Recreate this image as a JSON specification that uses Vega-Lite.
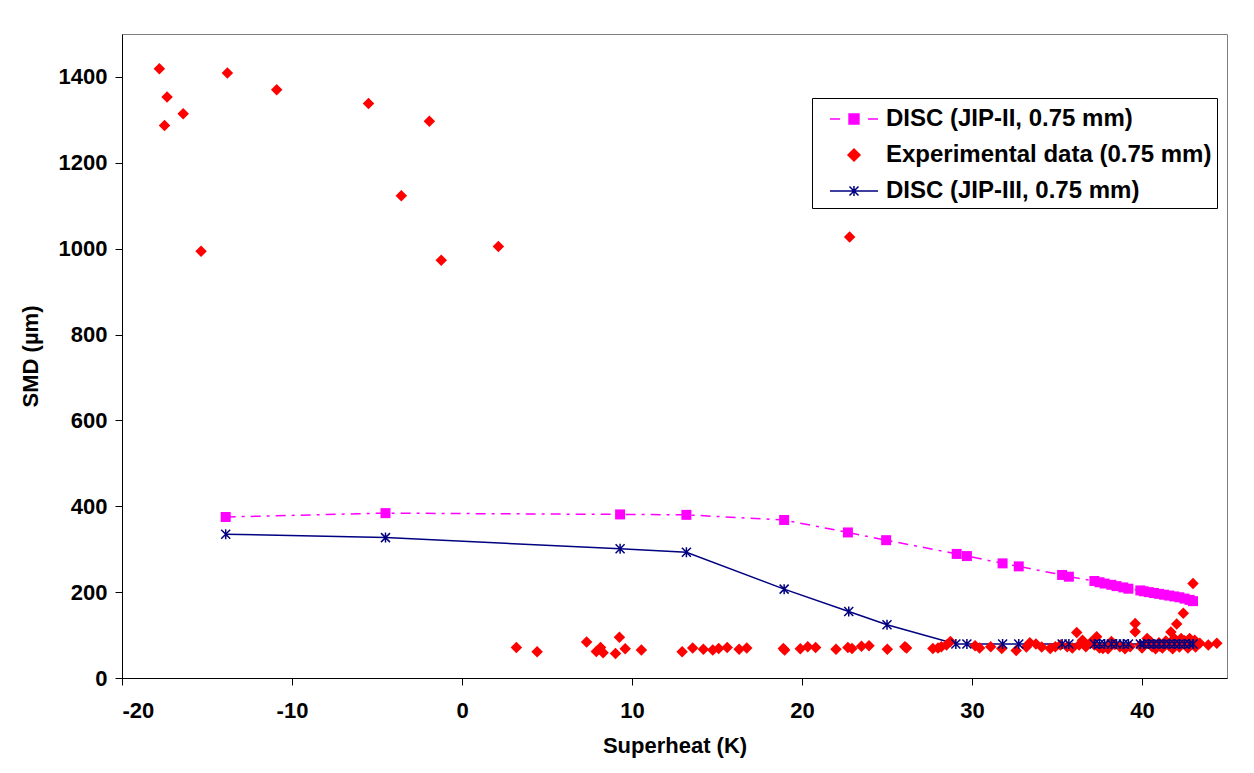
{
  "$schema": "https://vega.github.io/schema/vega-lite/v6.json",
  "width": 1105,
  "height": 644,
  "autosize": {"type": "none"},
  "padding": {"left": 122, "top": 34, "right": 27, "bottom": 95},
  "background": "white",
  "config": {
    "view": {"stroke": "#808080", "strokeWidth": 1},
    "font": "Liberation Sans",
    "axis": {
      "labelFont": "Liberation Sans", "labelFontWeight": "bold", "labelFontSize": 22, "labelColor": "black",
      "titleFont": "Liberation Sans", "titleFontWeight": "bold", "titleFontSize": 22, "titleColor": "black",
      "domainColor": "black", "tickColor": "black", "tickSize": 7, "grid": false, "domainWidth": 1, "tickWidth": 1
    }
  },
  "data": {
    "values": [
      {"series": "JIP-II", "x": -13.9, "y": 375}, {"series": "JIP-II", "x": -4.5, "y": 384}, {"series": "JIP-II", "x": 9.3, "y": 381},
      {"series": "JIP-II", "x": 13.2, "y": 380}, {"series": "JIP-II", "x": 18.95, "y": 368}, {"series": "JIP-II", "x": 22.7, "y": 339},
      {"series": "JIP-II", "x": 24.95, "y": 321}, {"series": "JIP-II", "x": 29.1, "y": 289}, {"series": "JIP-II", "x": 29.7, "y": 284},
      {"series": "JIP-II", "x": 31.8, "y": 267}, {"series": "JIP-II", "x": 32.75, "y": 260}, {"series": "JIP-II", "x": 35.3, "y": 240},
      {"series": "JIP-II", "x": 35.7, "y": 236}, {"series": "JIP-II", "x": 37.2, "y": 226}, {"series": "JIP-II", "x": 37.5, "y": 223},
      {"series": "JIP-II", "x": 37.8, "y": 220}, {"series": "JIP-II", "x": 38.2, "y": 217}, {"series": "JIP-II", "x": 38.5, "y": 214},
      {"series": "JIP-II", "x": 38.9, "y": 211}, {"series": "JIP-II", "x": 39.2, "y": 208}, {"series": "JIP-II", "x": 39.9, "y": 204},
      {"series": "JIP-II", "x": 40.1, "y": 202}, {"series": "JIP-II", "x": 40.4, "y": 200}, {"series": "JIP-II", "x": 40.7, "y": 198},
      {"series": "JIP-II", "x": 41.0, "y": 196}, {"series": "JIP-II", "x": 41.3, "y": 194}, {"series": "JIP-II", "x": 41.6, "y": 192},
      {"series": "JIP-II", "x": 41.9, "y": 190}, {"series": "JIP-II", "x": 42.2, "y": 188}, {"series": "JIP-II", "x": 42.5, "y": 185},
      {"series": "JIP-II", "x": 42.8, "y": 182}, {"series": "JIP-II", "x": 43.0, "y": 179},

      {"series": "Exp", "x": -17.8, "y": 1419}, {"series": "Exp", "x": -17.35, "y": 1353}, {"series": "Exp", "x": -17.5, "y": 1287},
      {"series": "Exp", "x": -16.4, "y": 1314}, {"series": "Exp", "x": -15.35, "y": 994}, {"series": "Exp", "x": -13.8, "y": 1409},
      {"series": "Exp", "x": -10.9, "y": 1370}, {"series": "Exp", "x": -5.5, "y": 1338}, {"series": "Exp", "x": -3.57, "y": 1123},
      {"series": "Exp", "x": -1.92, "y": 1297}, {"series": "Exp", "x": -1.22, "y": 973}, {"series": "Exp", "x": 2.14, "y": 1005},
      {"series": "Exp", "x": 22.8, "y": 1027},
      {"series": "Exp", "x": 3.2, "y": 71}, {"series": "Exp", "x": 4.42, "y": 61}, {"series": "Exp", "x": 7.33, "y": 84},
      {"series": "Exp", "x": 7.9, "y": 62}, {"series": "Exp", "x": 8.15, "y": 71}, {"series": "Exp", "x": 8.3, "y": 59},
      {"series": "Exp", "x": 9.03, "y": 57}, {"series": "Exp", "x": 9.26, "y": 95}, {"series": "Exp", "x": 9.6, "y": 68},
      {"series": "Exp", "x": 10.55, "y": 65}, {"series": "Exp", "x": 12.95, "y": 61}, {"series": "Exp", "x": 13.57, "y": 70},
      {"series": "Exp", "x": 14.2, "y": 67}, {"series": "Exp", "x": 14.75, "y": 65}, {"series": "Exp", "x": 15.1, "y": 69},
      {"series": "Exp", "x": 15.6, "y": 71}, {"series": "Exp", "x": 16.3, "y": 67}, {"series": "Exp", "x": 16.75, "y": 70},
      {"series": "Exp", "x": 18.9, "y": 69}, {"series": "Exp", "x": 18.98, "y": 65}, {"series": "Exp", "x": 19.9, "y": 68},
      {"series": "Exp", "x": 20.34, "y": 73}, {"series": "Exp", "x": 20.8, "y": 71}, {"series": "Exp", "x": 22.0, "y": 67},
      {"series": "Exp", "x": 22.7, "y": 71}, {"series": "Exp", "x": 22.94, "y": 69}, {"series": "Exp", "x": 23.5, "y": 74},
      {"series": "Exp", "x": 23.94, "y": 75}, {"series": "Exp", "x": 25.02, "y": 67}, {"series": "Exp", "x": 26.05, "y": 73},
      {"series": "Exp", "x": 26.15, "y": 70}, {"series": "Exp", "x": 27.7, "y": 69}, {"series": "Exp", "x": 28.0, "y": 70},
      {"series": "Exp", "x": 28.2, "y": 73}, {"series": "Exp", "x": 28.5, "y": 77}, {"series": "Exp", "x": 28.73, "y": 85},
      {"series": "Exp", "x": 30.18, "y": 75}, {"series": "Exp", "x": 30.45, "y": 70}, {"series": "Exp", "x": 31.1, "y": 73},
      {"series": "Exp", "x": 31.75, "y": 69}, {"series": "Exp", "x": 32.6, "y": 64}, {"series": "Exp", "x": 33.2, "y": 72},
      {"series": "Exp", "x": 33.4, "y": 82}, {"series": "Exp", "x": 33.76, "y": 79}, {"series": "Exp", "x": 34.1, "y": 72},
      {"series": "Exp", "x": 34.6, "y": 69}, {"series": "Exp", "x": 34.9, "y": 73}, {"series": "Exp", "x": 35.2, "y": 77},
      {"series": "Exp", "x": 35.6, "y": 73}, {"series": "Exp", "x": 35.9, "y": 70}, {"series": "Exp", "x": 36.16, "y": 106},
      {"series": "Exp", "x": 36.3, "y": 77}, {"series": "Exp", "x": 36.5, "y": 88}, {"series": "Exp", "x": 36.7, "y": 73},
      {"series": "Exp", "x": 37.0, "y": 83}, {"series": "Exp", "x": 37.2, "y": 77}, {"series": "Exp", "x": 37.33, "y": 96},
      {"series": "Exp", "x": 37.5, "y": 70}, {"series": "Exp", "x": 37.7, "y": 69}, {"series": "Exp", "x": 38.0, "y": 68},
      {"series": "Exp", "x": 38.2, "y": 85}, {"series": "Exp", "x": 38.4, "y": 78}, {"series": "Exp", "x": 38.7, "y": 73},
      {"series": "Exp", "x": 39.0, "y": 68}, {"series": "Exp", "x": 39.3, "y": 73}, {"series": "Exp", "x": 39.6, "y": 127},
      {"series": "Exp", "x": 39.6, "y": 108}, {"series": "Exp", "x": 39.9, "y": 77}, {"series": "Exp", "x": 40.0, "y": 70},
      {"series": "Exp", "x": 40.2, "y": 80}, {"series": "Exp", "x": 40.3, "y": 92}, {"series": "Exp", "x": 40.5, "y": 85},
      {"series": "Exp", "x": 40.6, "y": 73}, {"series": "Exp", "x": 40.8, "y": 68}, {"series": "Exp", "x": 41.0, "y": 82},
      {"series": "Exp", "x": 41.06, "y": 74}, {"series": "Exp", "x": 41.2, "y": 70}, {"series": "Exp", "x": 41.4, "y": 86},
      {"series": "Exp", "x": 41.6, "y": 75}, {"series": "Exp", "x": 41.7, "y": 107}, {"series": "Exp", "x": 41.8, "y": 68},
      {"series": "Exp", "x": 41.9, "y": 92}, {"series": "Exp", "x": 42.0, "y": 83}, {"series": "Exp", "x": 42.04, "y": 126},
      {"series": "Exp", "x": 42.2, "y": 72}, {"series": "Exp", "x": 42.3, "y": 92}, {"series": "Exp", "x": 42.43, "y": 151},
      {"series": "Exp", "x": 42.5, "y": 87}, {"series": "Exp", "x": 42.7, "y": 70}, {"series": "Exp", "x": 42.8, "y": 92},
      {"series": "Exp", "x": 42.9, "y": 78}, {"series": "Exp", "x": 43.0, "y": 220}, {"series": "Exp", "x": 43.1, "y": 88},
      {"series": "Exp", "x": 43.15, "y": 72}, {"series": "Exp", "x": 43.4, "y": 81}, {"series": "Exp", "x": 43.9, "y": 77},
      {"series": "Exp", "x": 44.4, "y": 81},

      {"series": "JIP-III", "x": -13.9, "y": 335}, {"series": "JIP-III", "x": -4.5, "y": 327}, {"series": "JIP-III", "x": 9.3, "y": 301},
      {"series": "JIP-III", "x": 13.2, "y": 293}, {"series": "JIP-III", "x": 18.95, "y": 207}, {"series": "JIP-III", "x": 22.75, "y": 155},
      {"series": "JIP-III", "x": 25.0, "y": 124}, {"series": "JIP-III", "x": 29.05, "y": 79}, {"series": "JIP-III", "x": 29.7, "y": 79},
      {"series": "JIP-III", "x": 31.8, "y": 79}, {"series": "JIP-III", "x": 32.75, "y": 79}, {"series": "JIP-III", "x": 35.3, "y": 79},
      {"series": "JIP-III", "x": 35.7, "y": 79}, {"series": "JIP-III", "x": 37.2, "y": 79}, {"series": "JIP-III", "x": 37.5, "y": 79},
      {"series": "JIP-III", "x": 37.8, "y": 79}, {"series": "JIP-III", "x": 38.2, "y": 79}, {"series": "JIP-III", "x": 38.5, "y": 79},
      {"series": "JIP-III", "x": 38.9, "y": 79}, {"series": "JIP-III", "x": 39.2, "y": 79}, {"series": "JIP-III", "x": 39.9, "y": 79},
      {"series": "JIP-III", "x": 40.1, "y": 79}, {"series": "JIP-III", "x": 40.4, "y": 79}, {"series": "JIP-III", "x": 40.7, "y": 79},
      {"series": "JIP-III", "x": 41.0, "y": 79}, {"series": "JIP-III", "x": 41.3, "y": 79}, {"series": "JIP-III", "x": 41.6, "y": 79},
      {"series": "JIP-III", "x": 41.9, "y": 79}, {"series": "JIP-III", "x": 42.2, "y": 79}, {"series": "JIP-III", "x": 42.5, "y": 79},
      {"series": "JIP-III", "x": 42.8, "y": 79}, {"series": "JIP-III", "x": 43.0, "y": 79}
    ]
  },
  "encoding": {
    "x": {
      "field": "x", "type": "quantitative",
      "scale": {"domain": [-20, 45], "nice": false, "zero": false},
      "axis": {"values": [-20, -10, 0, 10, 20, 30, 40], "title": "Superheat (K)", "labelExpr": "'' + datum.value", "labelPadding": 15, "titlePadding": 14}
    },
    "y": {
      "field": "y", "type": "quantitative",
      "scale": {"domain": [0, 1500], "nice": false},
      "axis": {"values": [0, 200, 400, 600, 800, 1000, 1200, 1400], "title": "SMD (µm)", "labelExpr": "'' + datum.value", "labelPadding": 8, "titlePadding": 16}
    }
  },
  "layer": [
    {
      "transform": [{"filter": "datum.series == 'JIP-II'"}],
      "mark": {"type": "line", "color": "#FF00FF", "strokeWidth": 1.5, "strokeDash": [10, 6, 3, 6]}
    },
    {
      "transform": [{"filter": "datum.series == 'JIP-III'"}],
      "mark": {"type": "line", "color": "#000080", "strokeWidth": 1.5}
    },
    {
      "transform": [{"filter": "datum.series == 'JIP-II'"}],
      "mark": {"type": "point", "filled": true, "size": 100, "opacity": 1, "color": "#FF00FF", "shape": "M-1,-1H1V1H-1Z"}
    },
    {
      "transform": [{"filter": "datum.series == 'Exp'"}],
      "mark": {"type": "point", "filled": true, "size": 100, "opacity": 1, "color": "#FF0000", "shape": "M-1.15,0L0,-1.15L1.15,0L0,1.15Z"}
    },
    {
      "transform": [{"filter": "datum.series == 'JIP-III'"}],
      "mark": {"type": "point", "filled": false, "size": 100, "opacity": 1, "strokeWidth": 1.5, "color": "#000080", "shape": "M-0.9,-0.9L0.9,0.9M-0.9,0.9L0.9,-0.9M0,-1V1"}
    },
    {
      "mark": {"type": "point", "filled": true, "size": 0, "opacity": 1, "strokeWidth": 1.5},
      "encoding": {
        "color": {
          "field": "series", "type": "nominal",
          "scale": {"domain": ["JIP-II", "Exp", "JIP-III"], "range": ["#FF00FF", "#FF0000", "#000080"]},
          "legend": {
            "orient": "none", "legendX": 690, "legendY": 64, "title": null,
            "strokeColor": "black", "fillColor": "white", "padding": 5,
            "labelFont": "Liberation Sans", "labelFontWeight": "bold", "labelFontSize": 24, "labelColor": "black", "labelLimit": 500,
            "symbolSize": 900, "symbolOffset": 21, "labelOffset": 16, "rowPadding": 8,
            "symbolOpacity": 1, "symbolStrokeWidth": 1.5,
            "labelExpr": "datum.value == 'JIP-II' ? 'DISC (JIP-II, 0.75 mm)' : datum.value == 'Exp' ? 'Experimental data (0.75 mm)' : 'DISC (JIP-III, 0.75 mm)'"
          }
        },
        "stroke": {
          "field": "series", "type": "nominal",
          "scale": {"domain": ["JIP-II", "Exp", "JIP-III"], "range": ["#FF00FF", "#FF0000", "#000080"]}
        },
        "shape": {
          "field": "series", "type": "nominal",
          "scale": {"domain": ["JIP-II", "Exp", "JIP-III"], "range": ["M-1.6,0H-0.93M0.93,0H1.6M-0.33,-0.33H0.33V0.33H-0.33Z", "M-0.4,0L0,-0.4L0.4,0L0,0.4Z", "M-1.6,0H1.6M-0.3,-0.3L0.3,0.3M-0.3,0.3L0.3,-0.3M0,-0.33V0.33"]}
        }
      }
    }
  ]
}
